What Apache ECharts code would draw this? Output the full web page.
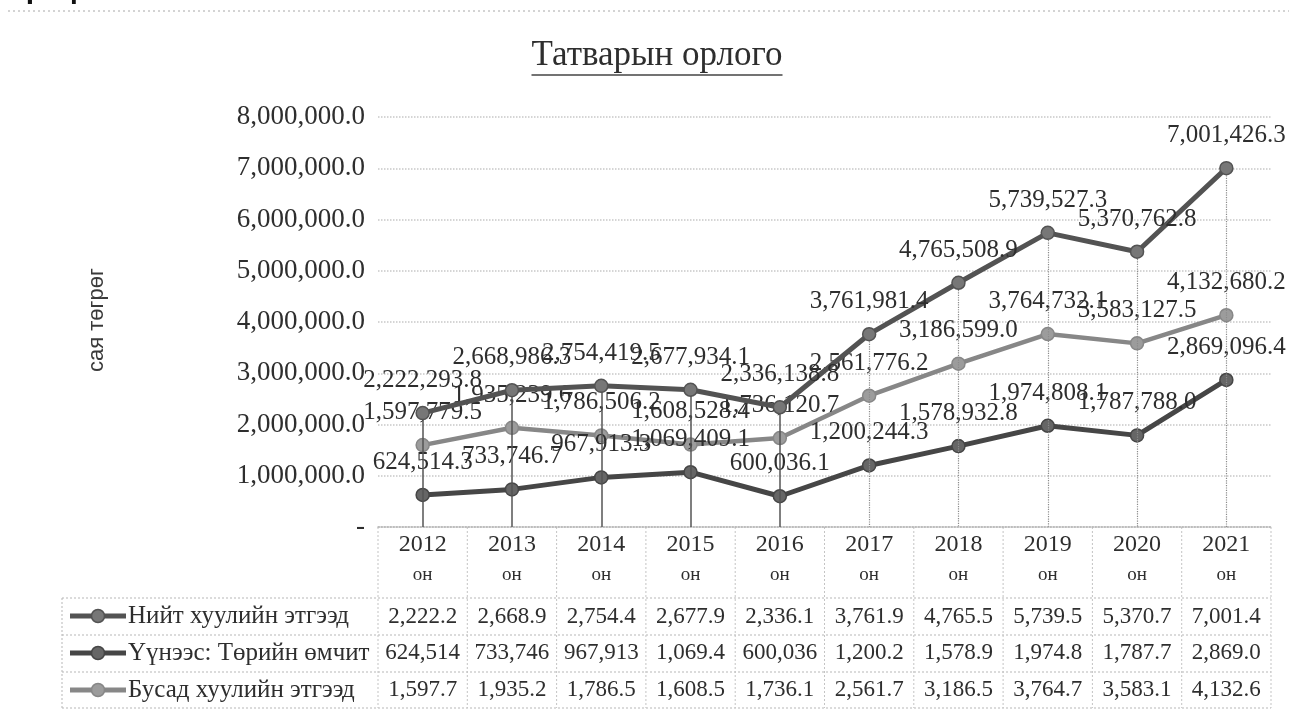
<!DOCTYPE html>
<html>
<head>
<meta charset="utf-8">
<script src="https://cdn.jsdelivr.net/npm/echarts@6/dist/echarts.min.js"></script>
<style>
  html, body { margin: 0; padding: 0; background: #ffffff; }
  #chart { width: 1289px; height: 718px; }
</style>
</head>
<body>
<div id="chart"></div>
<script>
// ---- Data ----
const categories = ['2012', '2013', '2014', '2015', '2016', '2017', '2018', '2019', '2020', '2021'];
const yearSuffix = 'он';
const seriesNames = ['Нийт хуулийн этгээд', 'Үүнээс: Төрийн өмчит', 'Бусад хуулийн этгээд'];
const totalValues = [2222293.8, 2668986.3, 2754419.5, 2677934.1, 2336138.8, 3761981.4, 4765508.9, 5739527.3, 5370762.8, 7001426.3];
const stateOwnedValues = [624514.3, 733746.7, 967913.3, 1069409.1, 600036.1, 1200244.3, 1578932.8, 1974808.1, 1787788.0, 2869096.4];
const otherValues = [1597779.5, 1935239.6, 1786506.2, 1608528.4, 1736120.7, 2561776.2, 3186599.0, 3764732.1, 3583127.5, 4132680.2];
// data table cell texts (as displayed, truncated)
const tableTotal = ['2,222.2', '2,668.9', '2,754.4', '2,677.9', '2,336.1', '3,761.9', '4,765.5', '5,739.5', '5,370.7', '7,001.4'];
const tableStateOwned = ['624,514', '733,746', '967,913', '1,069.4', '600,036', '1,200.2', '1,578.9', '1,974.8', '1,787.7', '2,869.0'];
const tableOther = ['1,597.7', '1,935.2', '1,786.5', '1,608.5', '1,736.1', '2,561.7', '3,186.5', '3,764.7', '3,583.1', '4,132.6'];
const yMin = 0, yMax = 8000000, yInterval = 1000000;
const titleText = 'Татварын орлого';
const yAxisTitle = 'сая төгрөг';
const pageHeading = 'График';

// ---- Style ----
const SERIF = '"Liberation Serif", "DejaVu Serif", serif';
const SANS = '"Liberation Sans", Arial, sans-serif';
const TXT = '#2e2e2e';
const colors = ['#535353', '#464646', '#878787'];
const markerFill = ['#777777', '#666666', '#9c9c9c'];
const GRID = { left: 378, right: 18, top: 117, bottom: 191 };

function fmt(v) {
  const s = Math.abs(v).toFixed(1);
  const [ip, dp] = s.split('.');
  return ip.replace(/\B(?=(\d{3})+(?!\d))/g, ',') + '.' + dp;
}

const chart = echarts.init(document.getElementById('chart'), null, { renderer: 'canvas' });

function tableAxis(rowTexts, offset) {
  return {
    type: 'category', data: categories, gridIndex: 0, position: 'bottom', offset: offset,
    axisLine: { show: false }, axisTick: { show: false }, splitLine: { show: false },
    axisLabel: {
      margin: 0, interval: 0, fontFamily: SERIF, fontSize: 23, color: TXT, lineHeight: 26,
      formatter: (v, i) => rowTexts[i]
    }
  };
}

function lineSeries(idx, data) {
  return {
    name: seriesNames[idx], type: 'line', data: data, xAxisIndex: 0, yAxisIndex: 0,
    symbol: 'circle', symbolSize: 13,
    lineStyle: { color: colors[idx], width: idx === 2 ? 4.5 : 5 },
    itemStyle: { color: markerFill[idx], borderColor: colors[idx], borderWidth: 1.5 },
    label: {
      show: true, position: 'top', distance: 13, fontFamily: SERIF, fontSize: 25, color: TXT,
      formatter: p => fmt(p.value)
    },
    z: 5 - idx,
    animation: false
  };
}

const dropLineData = categories.map((c, i) => [
  { coord: [c, totalValues[i]], lineStyle: i < 5 ? { color: '#555', width: 1.5, type: 'solid' } : { color: '#8a8a8a', width: 1.2, type: 'dotted' } },
  { coord: [c, 0] }
]);

const totalSeries = lineSeries(0, totalValues);
totalSeries.markLine = {
  silent: true, symbol: ['none', 'none'], label: { show: false },
  data: dropLineData, animation: false
};

const option = {
  backgroundColor: '#ffffff',
  animation: false,
  grid: GRID,
  xAxis: [
    {
      type: 'category', data: categories, boundaryGap: true, position: 'bottom',
      axisLine: { show: true, lineStyle: { color: '#b5b5b5', type: 'dotted', width: 1.5 } },
      axisTick: { show: false },
      splitLine: { show: false },
      axisLabel: {
        interval: 0, margin: 4, color: TXT,
        formatter: v => '{y|' + v + '}\n{o|' + yearSuffix + '}',
        rich: {
          y: { fontFamily: SERIF, fontSize: 24, lineHeight: 28, color: TXT },
          o: { fontFamily: SERIF, fontSize: 19, lineHeight: 32, color: TXT }
        }
      }
    },
    tableAxis(tableTotal, 77),
    tableAxis(tableStateOwned, 113),
    tableAxis(tableOther, 150)
  ],
  yAxis: {
    type: 'value', min: yMin, max: yMax, interval: yInterval,
    axisLine: { show: false }, axisTick: { show: false },
    splitLine: { show: true, lineStyle: { color: '#c8c8c8', type: 'dotted', width: 1.5 } },
    axisLabel: {
      margin: 13, fontFamily: SERIF, fontSize: 27, color: TXT,
      formatter: v => v === 0 ? '-' : fmt(v)
    }
  },
  series: [
    totalSeries,
    lineSeries(1, stateOwnedValues),
    lineSeries(2, otherValues)
  ]
};

chart.setOption(option);

// ---- Decorations: title underline, y-axis title, data table borders & legend keys ----
function measure(text, font) {
  const c = document.createElement('canvas').getContext('2d');
  c.font = font;
  return c.measureText(text).width;
}

const titleSize = 35;
const titleW = measure(titleText, titleSize + 'px "Liberation Serif"');
const titleCx = 657, titleCy = 56;

const x0 = chart.convertToPixel({ xAxisIndex: 0 }, categories[0]);
const x1 = chart.convertToPixel({ xAxisIndex: 0 }, categories[1]);
const colW = x1 - x0;
const plotLeft = x0 - colW / 2;
const plotRight = plotLeft + colW * categories.length;
const yZero = chart.convertToPixel({ yAxisIndex: 0 }, 0);

const tableLeft = 62;
const rowLines = [598, 635, 672, 708];
const rowCenters = [616, 653, 690];

const graphics = [];
// page heading (cut off at top) and dotted rule
graphics.push({ type: 'text', left: 10, top: -25, style: { text: pageHeading, font: 'bold 30px ' + SANS, fill: '#111' }, z: 10 });
graphics.push({ type: 'line', shape: { x1: 8, y1: 11, x2: 1289, y2: 11 }, style: { stroke: '#a8a8a8', lineWidth: 1, lineDash: [2, 3] } });
// title
graphics.push({ type: 'text', x: titleCx, y: titleCy, style: { text: titleText, font: titleSize + 'px ' + SERIF, fill: TXT, textAlign: 'center', textVerticalAlign: 'middle' } });
graphics.push({ type: 'line', shape: { x1: titleCx - titleW / 2, y1: 75, x2: titleCx + titleW / 2, y2: 75 }, style: { stroke: '#444', lineWidth: 1.5 } });
// y axis title
graphics.push({ type: 'text', x: 97, y: 320, rotation: Math.PI / 2, style: { text: yAxisTitle, font: '22px ' + SANS, fill: '#3a3a3a', textAlign: 'center', textVerticalAlign: 'middle' } });

// table horizontal lines
rowLines.forEach(y => {
  graphics.push({ type: 'line', shape: { x1: tableLeft, y1: y, x2: plotRight, y2: y }, style: { stroke: '#b8b8b8', lineWidth: 1, lineDash: [2, 2] } });
});
// table vertical lines
graphics.push({ type: 'line', shape: { x1: tableLeft, y1: rowLines[0], x2: tableLeft, y2: rowLines[3] }, style: { stroke: '#b8b8b8', lineWidth: 1, lineDash: [2, 2] } });
for (let k = 0; k <= categories.length; k++) {
  const x = plotLeft + k * colW;
  graphics.push({ type: 'line', shape: { x1: x, y1: yZero, x2: x, y2: rowLines[3] }, style: { stroke: '#c4c4c4', lineWidth: 1, lineDash: [2, 2] } });
}
// legend keys
seriesNames.forEach((name, i) => {
  const y = rowCenters[i];
  graphics.push({ type: 'line', shape: { x1: 70, y1: y, x2: 126, y2: y }, style: { stroke: colors[i], lineWidth: 5 } });
  graphics.push({ type: 'circle', shape: { cx: 98, cy: y, r: 6.5 }, style: { fill: markerFill[i], stroke: colors[i], lineWidth: 1.5 } });
  graphics.push({ type: 'text', x: 128, y: y, style: { text: name, font: '25px ' + SERIF, fill: TXT, textAlign: 'left', textVerticalAlign: 'middle' } });
});

chart.setOption({ graphic: graphics });
</script>
</body>
</html>
